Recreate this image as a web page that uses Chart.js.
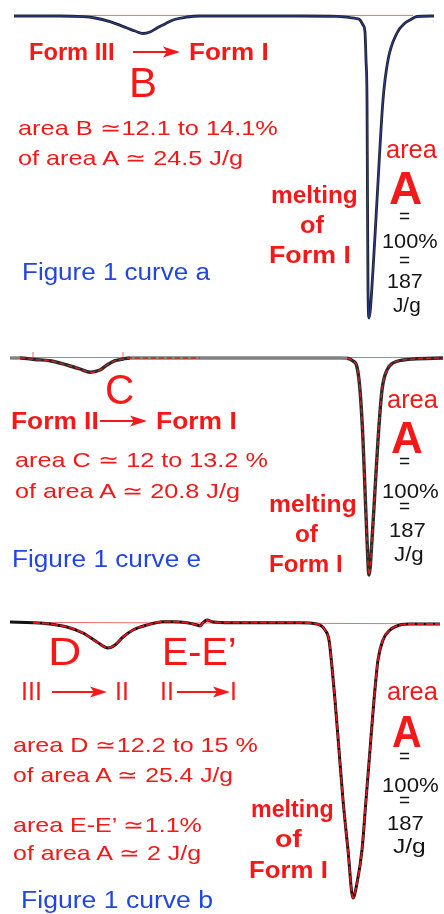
<!DOCTYPE html>
<html><head><meta charset="utf-8">
<script src="https://cdn.jsdelivr.net/npm/chart.js@4.4.1/dist/chart.umd.min.js"></script>
<style>
html,body{margin:0;padding:0;background:#fff;}
#page{position:relative;width:444px;height:914px;overflow:hidden;background:#fff;}
canvas{position:absolute;left:0;}
.lbl{position:absolute;white-space:nowrap;line-height:1;font-family:"Liberation Sans",Arial,Helvetica,sans-serif;transform-origin:0 0;}
svg{position:absolute;left:0;top:0;}
</style></head>
<body><div id="page"></div>
<script>
// ---- DSC curve a (Form III -> Form I, melting of Form I) ----
const tempA = [14,60,83,95,110,127,135,143,150,157,165,173,187,200,220,300,337,350,356,360,363,365,366,367,367.5,368,369,373,377,383,388,397,405,410,417,434];
const flowA = [0,0,-0.7,-2,-5.7,-12,-15,-17.5,-16,-12,-8,-4,-1,0,0,0,-0.3,-1.7,-2.5,-4,-9,-16,-44,-84,-184,-274,-302,-254,-184,-84,-44,-17,-7,-4,-0.5,0];
const baseA1 = [80,200];
const baseA2 = [300,413];

// ---- DSC curve e (Form II -> Form I) ----
const tempE = [10,20,35,50,67,80,90,100,107,115,123,130,200,340,347,353,357,360,363,365,367,369,372,375,378,382,387,393,403,413,443];
const flowE = [0,0,-1.5,-2.7,-7,-11,-14.3,-12,-7,-2.7,-1,0,0,0,-0.3,-3,-9,-32,-82,-132,-182,-217,-182,-132,-82,-32,-12,-5,-2,-1,0];
const baseE1 = [20,127];
const baseE2 = [347,413];
const ticksE = [33,123];

// ---- DSC curve b (III -> II, II -> I) ----
const tempB = [10,33,50,67,83,97,108,115,123,133,147,163,173,187,197,200,203,207,213,230,300,317,325,329,332,335,339,343,348,353,357,362,366,370,374,378,383,390,400,410,440];
const flowB = [0,-0.7,-2,-5,-11,-20,-26,-23,-15,-8,-3,0.3,0.3,-0.7,-3,-4,-0.7,2,0,-0.7,-0.7,-2,-8,-18,-45,-78,-128,-178,-228,-276,-261,-228,-178,-128,-78,-38,-18,-8,-3,-2,-2];
const baseBx = [33,410];
const baseBy = [-0.7,-2];

const R = '#f41818', K = '#141414', BL = '#2146e2';
// text, x, baseline, size, weight, color, ink width
const labels = [
 ["Form III",30,60,23,700,R,83],["Form I",190,60,23,700,R,77],["B",132,98,42,400,R,23],
 ["area B \u224312.1 to 14.1%",18,135,21,400,R,259],["of area A \u2243 24.5 J/g",18,165,21,400,R,227],
 ["Figure 1 curve a",23,280,23,400,BL,187],
 ["melting",272,203,24,700,R,85],["of",300,233,24,700,R,25],["Form I",270,263,24,700,R,80],
 ["area",387,158,25,400,R,50],["A",390,204,46,700,R,31],["=",400,223,21,400,K,10],
 ["100%",383,248,21,400,K,54],["=",400,267,21,400,K,10],["187",388,288,21,400,K,34],["J/g",393,312,21,400,K,27],

 ["C",107,405,42,400,R,26],["Form II",12,429,23,700,R,85],["Form I",157,429,23,700,R,78],
 ["area C \u2243 12 to 13.2 %",15,467,21,400,R,252],["of area A \u2243 20.8 J/g",15,498,21,400,R,227],
 ["Figure 1 curve e",13,567,23,400,BL,187],
 ["melting",270,512,24,700,R,86],["of",295,542,24,700,R,24],["Form I",270,572,24,700,R,72],
 ["area",388,408,25,400,R,50],["A",392,453,44,700,R,30],["=",400,468,21,400,K,10],
 ["100%",383,498,21,400,K,55],["=",400,513,21,400,K,10],["187",390,537,21,400,K,35],["J/g",394,561,21,400,K,29],

 ["D",52,665,38,400,R,28],["E-E\u2019",165,665,38,400,R,70],
 ["III",23,700,25,400,R,0],["II",117,700,25,400,R,0],["II",162,700,25,400,R,0],["I",232,700,25,400,R,0],
 ["area D \u224312.2 to 15 %",13,752,21,400,R,244],["of area A \u2243 25.4 J/g",13,782,21,400,R,222],
 ["area E-E\u2019 \u22431.1%",13,832,21,400,R,189],["of area A \u2243 2 J/g",13,860,21,400,R,190],
 ["Figure 1 curve b",22,908,23,400,BL,190],
 ["melting",252,817,24,700,R,81],["of",275,847,24,700,R,28],["Form I",250,878,24,700,R,77],
 ["area",388,700,25,400,R,50],["A",393,747,44,700,R,28],["=",400,763,21,400,K,10],
 ["100%",383,792,21,400,K,55],["=",400,807,21,400,K,10],["187",388,830,21,400,K,35],["J/g",393,853,21,400,K,32]
];
// arrows: x1, x2, y
const arrows = [[133,180,52],[100,147,421],[52,107,692],[177,230,692]];

const page = document.getElementById('page');
const pts = (xs, ys) => xs.map((x,i)=>({x, y: ys[i]}));
const flat = (xs, y) => xs.map(x=>({x, y}));

function makeChart(top, height, yMax, datasets){
  const c = document.createElement('canvas');
  c.width = 444; c.height = height; c.style.top = top+'px';
  c.style.width='444px'; c.style.height=height+'px';
  page.appendChild(c);
  new Chart(c, {type:'line', data:{datasets},
    options:{responsive:false, animation:false, devicePixelRatio:1, events:[],
      layout:{padding:0},
      plugins:{legend:{display:false}, tooltip:{enabled:false}},
      elements:{point:{radius:0}},
      scales:{x:{type:'linear',display:false,min:0,max:444}, y:{display:false,min:yMax-height,max:yMax}}}});
}
const redBase = 'rgba(235,70,70,0.8)';
const inR = (x, rs) => rs.some(r => x>=r[0] && x<=r[1]);

makeChart(0, 335, 16, [
  {data:pts(tempA,flowA), borderColor:'#2b3f92', borderWidth:1, cubicInterpolationMode:'monotone', clip:false, order:1},
  {data:pts(tempA,flowA), borderColor:'#1e2130', borderWidth:2.8, cubicInterpolationMode:'monotone', clip:false, order:2},
  {data:flat(baseA1,0.6), borderColor:redBase, borderWidth:1, order:3},
  {data:flat(baseA2,0.6), borderColor:redBase, borderWidth:1, order:3}
]);

makeChart(340, 250, 18, [
  {data:pts(tempE,flowE), borderWidth:1.4, borderDash:[5,3], cubicInterpolationMode:'monotone', clip:false, order:1, borderColor:'#d42020',
   segment:{borderColor: c => inR(c.p0.parsed.x,[[18,132],[345,415]]) ? '#d42020' : 'rgba(0,0,0,0)'}},
  {data:pts(tempE,flowE), borderWidth:3.4, cubicInterpolationMode:'monotone', clip:false, order:2, borderColor:'#2a2a2a',
   segment:{borderColor: c => (Math.abs(c.p0.parsed.y)<0.5 && Math.abs(c.p1.parsed.y)<0.5) ? '#808080' : '#2a2a2a'}},
  {data:flat(baseE1,0.5), borderColor:redBase, borderWidth:1, order:3},
  {data:flat(baseE2,0.5), borderColor:redBase, borderWidth:1, order:3},
  ...ticksE.map(t => ({data:[{x:t,y:0},{x:t,y:6}], borderColor:redBase, borderWidth:1, order:3}))
]);

makeChart(600, 310, 22, [
  {data:pts(tempB,flowB), borderWidth:1.8, borderDash:[7,2], cubicInterpolationMode:'monotone', clip:false, order:1, borderColor:'#e8141c',
   segment:{borderColor: c => inR(c.p0.parsed.x,[[30,412]]) ? '#e8141c' : 'rgba(0,0,0,0)'}},
  {data:pts(tempB,flowB), borderColor:'#111', borderWidth:3, cubicInterpolationMode:'monotone', clip:false, order:2},
  {data:pts(baseBx,baseBy.map(v=>v+0.3)), borderColor:redBase, borderWidth:1, order:3}
]);

// arrows
const NS = 'http://www.w3.org/2000/svg';
const svg = document.createElementNS(NS,'svg');
svg.setAttribute('width',444); svg.setAttribute('height',914);
arrows.forEach(([x1,x2,y])=>{
  const l = document.createElementNS(NS,'line');
  l.setAttribute('x1',x1); l.setAttribute('x2',x2-10); l.setAttribute('y1',y); l.setAttribute('y2',y);
  l.setAttribute('stroke',R); l.setAttribute('stroke-width',2.2);
  svg.appendChild(l);
  const p = document.createElementNS(NS,'polygon');
  p.setAttribute('points',`${x2-17},${y-5.5} ${x2},${y} ${x2-17},${y+5.5} ${x2-13},${y}`);
  p.setAttribute('fill',R);
  svg.appendChild(p);
});
page.appendChild(svg);

// labels
const mctx = document.createElement('canvas').getContext('2d');
labels.forEach(([t,x,base,size,wt,col,w])=>{
  const d = document.createElement('div');
  d.className='lbl'; d.textContent=t;
  d.style.fontSize=size+'px'; d.style.fontWeight=wt; d.style.color=col;
  const font = `${wt} ${size}px "Liberation Sans", Arial, sans-serif`;
  mctx.font = font;
  const m = mctx.measureText(t);
  const ink = m.actualBoundingBoxRight + m.actualBoundingBoxLeft;
  const s = w ? w/ink : 1;
  d.style.left = (x + s*m.actualBoundingBoxLeft)+'px';
  d.style.top = (base - 0.8465*size)+'px';
  if (w) d.style.transform = `scaleX(${s})`;
  page.appendChild(d);
});
</script>
</body></html>
